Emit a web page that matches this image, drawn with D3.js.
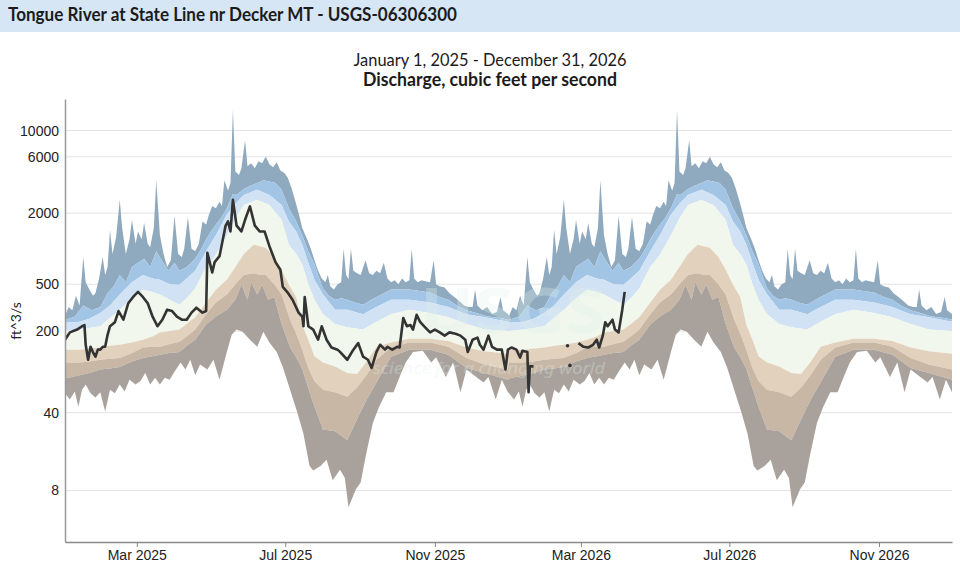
<!DOCTYPE html>
<html>
<head>
<meta charset="utf-8">
<script src="https://cdn.jsdelivr.net/npm/d3@7"></script>
<style>
  body { margin: 0; background: #fff; }
  svg { display: block; font-family: "Source Sans Pro", Lato, "Open Sans", sans-serif; }
</style>
</head>
<body>
<script>
var width = 960, height = 567;

// time span, tick values
var startDate = "2025-01-01", endDate = "2026-12-31";
var statYears = [2025, 2026];
var xTickDates = ["2025-03-01", "2025-07-01", "2025-11-01", "2026-03-01", "2026-07-01", "2026-11-01"];
var yTickValues = [8, 40, 200, 500, 2000, 6000, 10000];

// daily statistics, [day of year, cfs]. same stats repeat every year.
var statMax = [[0,270],[3,320],[6,300],[9,400],[12,330],[15,850],[17,520],[20,450],[23,400],[25,420],[28,560],[31,850],[33,600],[35,700],[37,1450],[39,900],[42,1250],[45,2600],[47,1500],[50,900],[53,1200],[55,1750],[58,1100],[60,1400],[63,1200],[65,1650],[68,1100],[70,1030],[73,1500],[75,3800],[78,1300],[81,900],[84,700],[87,800],[90,1900],[93,900],[96,850],[98,1000],[101,1850],[104,1000],[107,950],[110,1100],[113,1700],[116,1600],[118,1900],[121,2300],[124,2200],[127,2500],[129,2300],[131,3800],[134,3100],[136,3600],[138,15000],[140,4500],[143,4200],[145,4800],[148,8300],[150,5000],[153,5300],[156,4800],[159,5500],[162,5300],[165,6000],[168,5200],[171,4900],[174,5400],[177,4600],[180,4400],[183,4000],[186,3300],[189,2600],[192,2000],[195,1500],[199,1200],[202,1000],[205,800],[208,650],[211,560],[214,520],[216,600],[218,480],[221,450],[224,500],[227,520],[229,1000],[231,600],[233,550],[235,1000],[237,650],[240,620],[243,600],[247,800],[250,620],[253,600],[256,650],[259,620],[262,760],[265,560],[268,520],[271,540],[274,500],[277,560],[280,520],[283,540],[285,1000],[287,560],[290,520],[293,540],[296,530],[300,520],[303,800],[305,500],[308,480],[312,470],[316,420],[320,390],[324,360],[328,330],[332,320],[335,320],[337,450],[339,330],[343,300],[347,320],[351,280],[355,290],[358,390],[360,300],[364,280]];
var statP95 = [[0,250],[8,265],[15,330],[22,300],[29,320],[35,420],[40,480],[45,600],[50,520],[55,700],[60,760],[65,820],[70,700],[75,950],[80,780],[85,650],[90,760],[94,650],[100,700],[107,820],[112,1000],[116,1200],[120,1400],[124,1600],[128,1800],[133,2200],[138,2900],[142,2900],[147,3200],[152,3400],[158,3600],[163,3800],[168,3700],[173,3600],[178,3150],[184,2200],[190,1700],[195,1300],[200,950],[205,740],[209,560],[212,460],[217,400],[222,370],[227,380],[232,370],[238,350],[245,335],[250,360],[256,390],[262,420],[268,450],[275,450],[283,450],[290,440],[300,425],[308,390],[315,370],[322,330],[330,300],[338,285],[345,270],[352,262],[358,258],[364,250]];
var statP90 = [[0,235],[12,240],[20,255],[29,285],[37,330],[45,410],[55,520],[64,600],[72,560],[78,545],[86,500],[94,495],[100,560],[107,650],[116,950],[124,1300],[133,1950],[140,2400],[147,2850],[158,3150],[168,2850],[178,2350],[184,1700],[190,1400],[195,1080],[200,760],[205,545],[212,410],[222,304],[232,304],[245,278],[256,320],[268,369],[283,369],[300,350],[315,320],[330,278],[345,262],[364,240]];
var statP75 = [[0,200],[12,206],[20,212],[29,220],[37,260],[45,304],[55,380],[64,449],[72,430],[78,410],[86,370],[94,335],[100,380],[107,460],[116,700],[124,890],[133,1300],[140,1800],[147,2350],[158,2590],[168,2350],[178,1757],[184,1080],[190,900],[195,735],[200,500],[205,369],[212,278],[222,230],[232,216],[245,206],[256,240],[268,278],[283,304],[300,285],[315,262],[330,230],[345,206],[364,200]];
var statP25 = [[0,139],[12,139],[20,142],[29,145],[37,150],[45,153],[55,160],[64,169],[72,180],[78,195],[86,200],[94,206],[100,230],[107,262],[116,350],[124,449],[133,545],[140,700],[147,900],[155,1080],[160,1050],[165,1020],[172,850],[178,663],[184,495],[190,390],[195,225],[200,169],[205,122],[212,108],[222,100],[232,88],[240,86],[248,110],[256,147],[268,160],[283,172],[300,172],[315,165],[330,145],[345,135],[364,128]];
var statP10 = [[0,108],[12,108],[20,110],[29,114],[37,116],[45,118],[55,130],[64,145],[72,147],[78,147],[86,155],[94,162],[100,180],[107,206],[116,278],[124,350],[133,410],[140,500],[147,600],[155,620],[160,600],[165,600],[172,500],[178,410],[185,250],[190,190],[195,139],[200,97],[205,75],[212,63],[222,60],[232,55],[240,66],[248,85],[256,114],[268,145],[283,160],[300,160],[315,147],[330,118],[345,104],[364,94]];
var statP5 = [[0,79],[12,84],[20,88],[29,94],[37,96],[45,99],[55,110],[64,118],[72,122],[78,126],[86,130],[94,133],[100,150],[107,169],[116,228],[124,266],[133,304],[140,369],[145,495],[150,369],[153,520],[158,410],[162,495],[167,369],[172,390],[178,230],[185,145],[190,120],[195,95],[200,65],[205,45],[212,28.5],[222,27.5],[232,23],[240,35],[248,52],[256,73],[268,121],[283,139],[300,139],[315,126],[330,97],[345,88],[364,77]];
var statMin = [[0,59],[4,52],[8,61],[11,45],[14,63],[17,70],[21,59],[25,54],[29,60],[33,41],[37,63],[41,59],[45,70],[49,61],[53,77],[58,70],[62,75],[66,88],[70,70],[74,80],[78,70],[82,80],[86,77],[90,90],[95,108],[99,94],[103,114],[107,84],[111,104],[117,94],[122,114],[127,77],[133,133],[137,186],[141,206],[146,197],[152,169],[158,147],[163,197],[168,160],[174,133],[179,99],[185,63],[191,40],[196,26],[201,13.5],[204,12.3],[210,13.5],[215,15.4],[220,10],[226,12.5],[230,10.5],[233,5.5],[239,8.2],[243,9.5],[247,16.3],[253,32.5],[258,44.5],[264,60],[270,60],[275,81],[280,108],[286,133],[294,136],[301,108],[305,120],[313,81],[319,108],[325,60],[330,94],[338,81],[344,73],[348,81],[354,52],[359,77],[364,60]];

// observed daily discharge, [days since startDate, cfs]; null = no data
var observed = [[0,169],[4,195],[10,206],[14,220],[16,225],[17,153],[19,114],[21,147],[23,132],[25,121],[27,139],[29,139],[31,147],[33,147],[35,186],[37,220],[41,238],[44,296],[48,250],[52,345],[56,390],[60,430],[64,390],[68,345],[72,265],[76,220],[80,250],[84,304],[88,296],[92,265],[96,250],[100,250],[104,287],[108,316],[113,287],[116,296],[117,925],[121,630],[123,770],[127,865],[132,1570],[134,1700],[136,1400],[138,2590],[141,1570],[145,1400],[148,1757],[152,2280],[156,1570],[160,1400],[164,1400],[168,1050],[173,770],[177,663],[179,475],[183,425],[187,369],[192,287],[195,265],[196,220],[197,390],[200,220],[204,206],[208,169],[211,220],[215,169],[219,145],[224,139],[226,133],[232,114],[237,139],[241,158],[245,121],[249,114],[252,97],[256,133],[259,153],[263,139],[265,147],[269,139],[273,147],[275,145],[278,258],[281,220],[284,225],[286,206],[289,275],[292,238],[296,215],[300,195],[304,206],[308,195],[312,183],[316,195],[321,190],[325,183],[329,169],[331,133],[335,169],[339,176],[341,153],[344,139],[348,183],[351,147],[355,139],[359,139],[362,94],[364,139],[367,145],[371,139],[374,119],[376,136],[380,133],[381,60],[382,100],[385,100],[386,null],[413,150],[414,null],[415,102],[416,null],[422,158],[426,147],[430,145],[434,153],[437,169],[439,145],[442,183],[444,238],[446,220],[450,250],[452,206],[455,195],[458,304],[460,430]];

var bandNames = ["max-95", "95-90", "90-75", "75-25", "25-10", "10-5", "5-min"];
var bandColors = ["#8fa9be", "#a2c5e6", "#d0e2f4", "#f1f7ec", "#e2d2bd", "#c9b7a5", "#a9a29c"];

var parseDate = d3.timeParse("%Y-%m-%d");
var margin = { left: 65, right: 8, top: 99, bottom: 25 };

var svg = d3.select("body").append("svg").attr("width", width).attr("height", height);

// title bar
svg.append("rect").attr("x", 0).attr("y", 0).attr("width", width).attr("height", 32).attr("fill", "#d7e6f5");
svg.append("text").text("Tongue River at State Line nr Decker MT - USGS-06306300")
   .attr("x", 8).attr("y", 21).attr("font-size", "18px").attr("font-weight", "bold").attr("fill", "#1b1b1b")
   .attr("textLength", 449).attr("lengthAdjust", "spacingAndGlyphs");
svg.append("text").text("January 1, 2025 - December 31, 2026")
   .attr("x", 490).attr("y", 66).attr("text-anchor", "middle").attr("font-size", "18px").attr("fill", "#1b1b1b")
   .attr("textLength", 273).attr("lengthAdjust", "spacingAndGlyphs");
svg.append("text").text("Discharge, cubic feet per second")
   .attr("x", 490).attr("y", 86).attr("text-anchor", "middle").attr("font-size", "18px").attr("font-weight", "bold").attr("fill", "#1b1b1b")
   .attr("textLength", 254).attr("lengthAdjust", "spacingAndGlyphs");

var x = d3.scaleTime().domain([parseDate(startDate), parseDate(endDate)]).range([margin.left, width - margin.right]);
var y = d3.scaleSymlog().constant(1).domain([2.3, 18500]).range([height - margin.bottom, margin.top]);

svg.append("clipPath").attr("id", "plotClip").append("rect")
   .attr("x", margin.left).attr("y", margin.top)
   .attr("width", width - margin.right - margin.left).attr("height", height - margin.bottom - margin.top);

// gridlines
svg.append("g").selectAll("line").data(yTickValues).enter().append("line")
   .attr("x1", margin.left).attr("x2", width - margin.right)
   .attr("y1", function(d) { return y(d); }).attr("y2", function(d) { return y(d); })
   .style("stroke", "#e4e4e4").style("stroke-width", 1);

var plot = svg.append("g").attr("clip-path", "url(#plotClip)");

// put one year of stats on every year of the chart
var statPoints = function(series) {
    var pts = [];
    statYears.forEach(function(yr) {
        var jan1 = new Date(yr, 0, 1);
        series.forEach(function(p) { pts.push([d3.timeDay.offset(jan1, p[0]), p[1]]); });
    });
    return pts;
};

var line = d3.line().x(function(d) { return x(d[0]); }).y(function(d) { return y(d[1]); });

var bounds = [statMax, statP95, statP90, statP75, statP25, statP10, statP5, statMin];
bandNames.forEach(function(name, i) {
    var upper = statPoints(bounds[i]);
    var lower = statPoints(bounds[i + 1]).reverse();
    plot.append("path").attr("class", "band " + name)
        .attr("d", line(upper.concat(lower)) + "Z")
        .style("fill", bandColors[i]).style("stroke", "none");
});

// faint USGS watermark
var mark = plot.append("g").style("opacity", 0.3);
mark.append("text").text("USGS").attr("x", 420).attr("y", 333)
    .attr("font-family", "'Noto Sans', sans-serif").attr("font-size", "62px").attr("font-weight", "bold")
    .attr("fill", "#e3f2ec").attr("textLength", 185).attr("lengthAdjust", "spacingAndGlyphs");
mark.append("text").text("science for a changing world").attr("x", 373).attr("y", 374)
    .attr("font-family", "'Noto Sans', sans-serif").attr("font-size", "17px").attr("font-style", "italic")
    .attr("fill", "#e3f2ec").attr("textLength", 232).attr("lengthAdjust", "spacingAndGlyphs");

// observed discharge
var start = parseDate(startDate);
var obsPts = observed.map(function(p) { return [d3.timeDay.offset(start, p[0]), p[1]]; });
var obsLine = d3.line().defined(function(d) { return d[1] != null; })
    .x(function(d) { return x(d[0]); }).y(function(d) { return y(d[1]); });
plot.append("path").attr("d", obsLine(obsPts))
    .style("fill", "none").style("stroke", "#333").style("stroke-width", 2.6).style("stroke-linejoin", "round");

// lone points with no neighbours
var lonely = obsPts.filter(function(d, i) {
    if (d[1] == null) return false;
    var prev = obsPts[i - 1], next = obsPts[i + 1];
    return (!prev || prev[1] == null) && (!next || next[1] == null);
});
plot.selectAll("circle.lone").data(lonely).enter().append("circle").attr("class", "lone")
    .attr("cx", function(d) { return x(d[0]); }).attr("cy", function(d) { return y(d[1]); })
    .attr("r", 1.8).style("fill", "#333");

// axes
var xAxis = d3.axisBottom(x).tickValues(xTickDates.map(parseDate))
    .tickFormat(d3.timeFormat("%b %Y")).tickSizeInner(5).tickSizeOuter(0).tickPadding(3);
var gx = svg.append("g").attr("transform", "translate(0," + (height - margin.bottom) + ")").call(xAxis);
gx.selectAll("text").attr("font-size", "14px").attr("fill", "#222").attr("font-family", null);
gx.select(".domain").style("stroke", "#888").style("stroke-width", 1.5);
gx.selectAll(".tick line").style("stroke", "#888");

var yAxis = d3.axisLeft(y).tickValues(yTickValues).tickFormat(d3.format("d")).tickSize(0).tickPadding(6);
var gy = svg.append("g").attr("transform", "translate(" + margin.left + ",0)").call(yAxis);
gy.selectAll("text").attr("font-size", "14px").attr("fill", "#222").attr("font-family", null);
gy.select(".domain").style("stroke", "#999").style("stroke-width", 1.5);

svg.append("text").text("ft^3/s")
   .attr("transform", "translate(16,321) rotate(-90)").attr("text-anchor", "middle")
   .attr("dy", "0.35em").attr("font-size", "14px").attr("fill", "#222");
</script>
</body>
</html>
